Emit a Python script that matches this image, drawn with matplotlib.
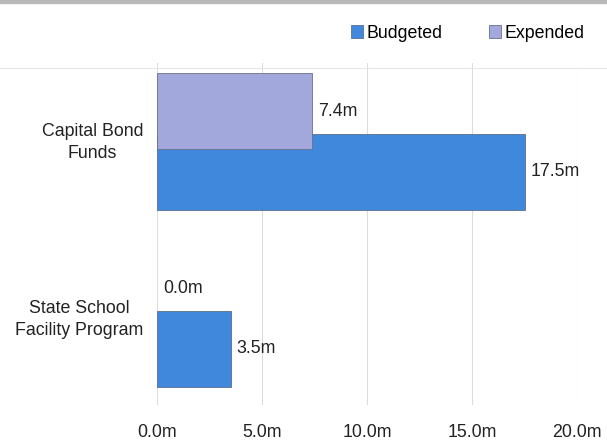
import matplotlib.pyplot as plt
import numpy as np
from matplotlib.patches import Rectangle
from matplotlib.lines import Line2D

plt.rcParams['font.family'] = ['Liberation Sans', 'DejaVu Sans']

categories = ['Capital Bond\nFunds', 'State School\nFacility Program']
budgeted = [17.5, 3.5]
expended = [7.4, 0.0]
x_ticks = [0, 5, 10, 15, 20]

c_budget = '#3f88dc'
c_expend = '#a2a8dc'
fs = 12.8

fig = plt.figure(figsize=(6.07, 4.43), dpi=100)
ax = fig.add_axes([157 / 607, 1 - 405 / 443, 420 / 607, (405 - 63) / 443])

pos = np.arange(len(categories))
h = 0.43
off = 0.172
ax.barh(pos + off, budgeted, height=h, color=c_budget, edgecolor='#5a6f8a',
        linewidth=[0.6 if v > 0 else 0 for v in budgeted], label='Budgeted', zorder=2)
ax.barh(pos - off, expended, height=h, color=c_expend, edgecolor='#6a6f8a',
        linewidth=[0.6 if v > 0 else 0 for v in expended], label='Expended', zorder=3)

for p, v in zip(pos, budgeted):
    ax.text(v + 0.28, p + off, f'{v:.1f}m', va='center', ha='left', fontsize=fs, color='#222222')
for p, v in zip(pos, expended):
    ax.text(v + 0.28, p - off, f'{v:.1f}m', va='center', ha='left', fontsize=fs, color='#222222')

ax.set_xlim(0, 20)
ax.set_ylim(1.489, -0.4435)
ax.set_xticks(x_ticks)
ax.set_xticklabels([f'{t:.1f}m' for t in x_ticks])
ax.set_yticks(pos - 0.02)
ax.set_yticklabels(categories, linespacing=1.4)
for lab in ax.get_yticklabels():
    lab.set_multialignment('center')
ax.tick_params(axis='both', length=0, labelsize=fs, colors='#222222')
ax.tick_params(axis='x', pad=14)
ax.tick_params(axis='y', pad=10)
ax.grid(axis='x', color='#dddddd', linewidth=0.8, zorder=0)
for s in ax.spines.values():
    s.set_visible(False)

fig.add_artist(Line2D([0, 1], [1 - 68 / 443] * 2, color='#e6e6e6', linewidth=0.8))
fig.add_artist(Rectangle((0, 1 - 3 / 443), 1, 3 / 443, color='#b8b8b8', transform=fig.transFigure))

fig.legend(loc='center right', bbox_to_anchor=(0.99, 1 - 33 / 443), ncol=2,
           frameon=False, fontsize=fs, handlelength=0.7, handleheight=0.7,
           handletextpad=0.2, columnspacing=2.6)

fig.savefig('out.png', dpi=100)
